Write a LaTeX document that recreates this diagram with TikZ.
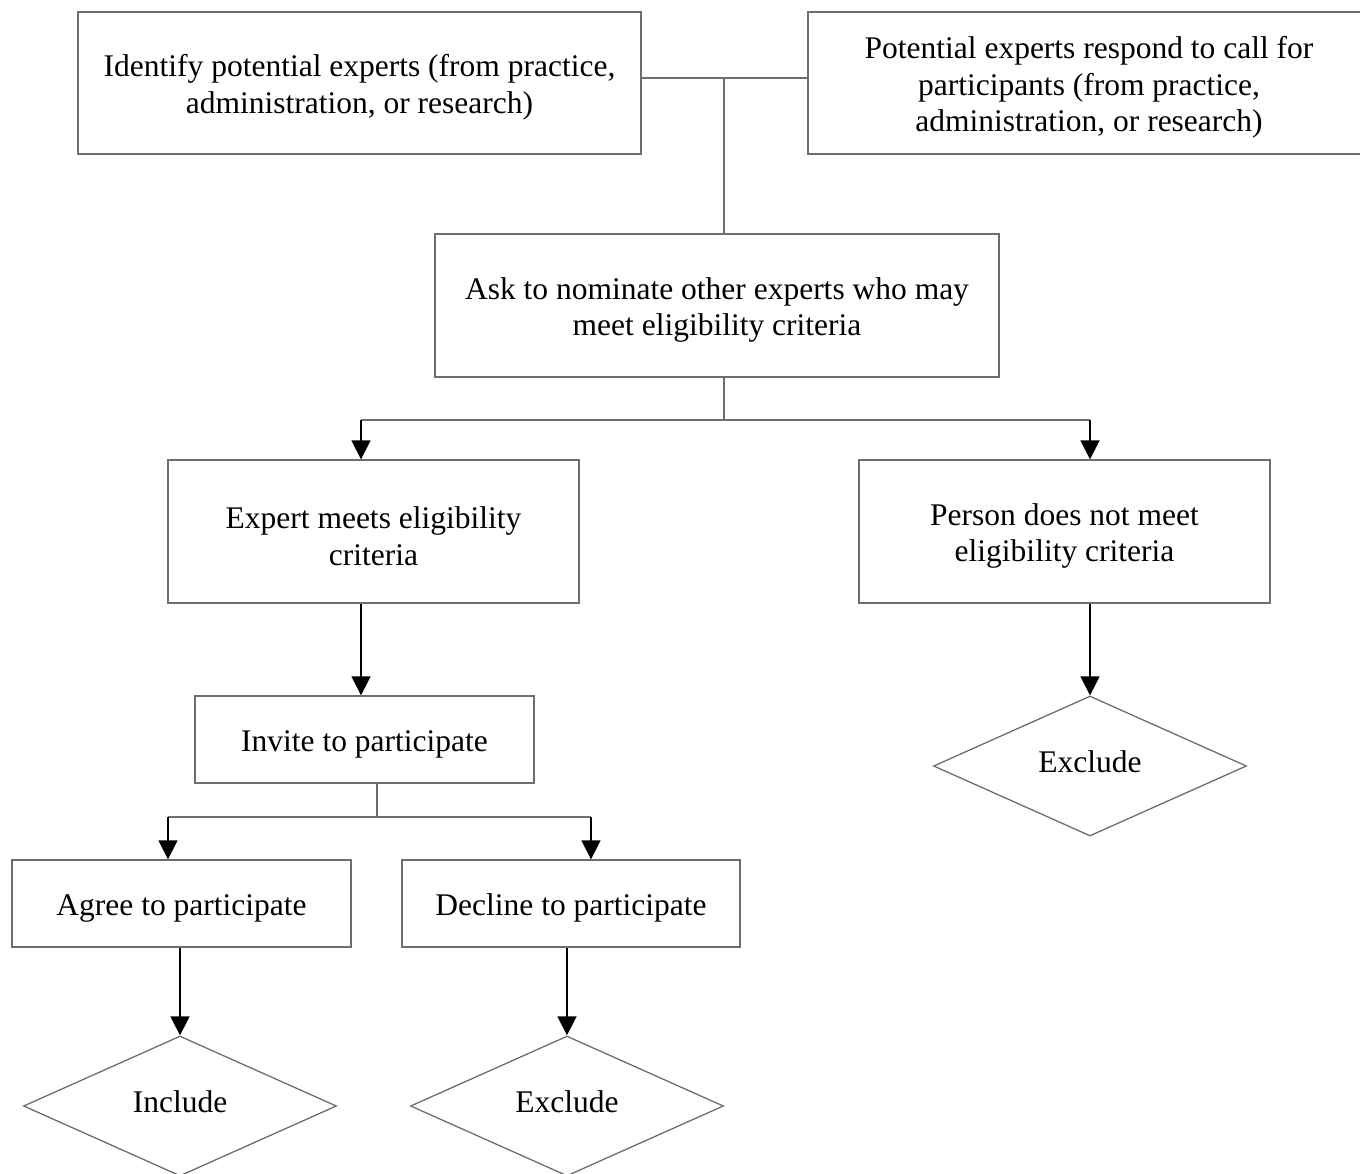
\documentclass[tikz,border=0pt]{standalone}
\usepackage{fontspec}
\setmainfont{Liberation Serif}
\usetikzlibrary{shapes.geometric,arrows.meta}
\definecolor{edgegray}{HTML}{6E6E6E}
\begin{document}
\begin{tikzpicture}[x=1pt,y=-1pt,
  txt/.style={align=center,inner sep=0pt,font=\fontsize{31.5}{36.5}\selectfont},
  box/.style={draw=edgegray,line width=1.3pt,rectangle,inner sep=0pt},
  btext/.style={label={[txt,yshift=-4.5pt]center:{#1}}},
  dtext/.style={label={[txt,yshift=4.5pt]center:{#1}}},
  dia/.style={draw=edgegray,line width=1.3pt,diamond,inner sep=0pt,aspect=2.2,
    minimum width=313pt,minimum height=140pt},
  conn/.style={draw=edgegray,line width=1.3pt},
  arr/.style={draw=black,line width=1.5pt,-{Triangle[width=19pt,length=19pt]}}]
\useasboundingbox (0,0) rectangle (1360,1174);
% boxes
\node[box,minimum width=563pt,minimum height=142pt,btext={Identify potential experts (from practice,\\administration, or research)}] (A) at (359.5,83) {};
\node[box,minimum width=562pt,minimum height=142pt,btext={Potential experts respond to call for\\participants (from practice,\\administration, or research)}] (B) at (1089,83) {};
\node[box,minimum width=564pt,minimum height=143pt,btext={Ask to nominate other experts who may\\meet eligibility criteria}] (C) at (717,305.5) {};
\node[box,minimum width=411pt,minimum height=143pt,btext={Expert meets eligibility\\criteria}] (D) at (373.5,531.5) {};
\node[box,minimum width=411pt,minimum height=143pt,btext={Person does not meet\\eligibility criteria}] (E) at (1064.5,531.5) {};
\node[box,minimum width=339pt,minimum height=87pt,btext={Invite to participate}] (F) at (364.5,739.5) {};
\node[box,minimum width=339pt,minimum height=87pt,btext={Agree to participate}] (G) at (181.5,903.5) {};
\node[box,minimum width=338pt,minimum height=87pt,btext={Decline to participate}] (H) at (571,903.5) {};
\node[dia,dtext={Exclude}] (X1) at (1090,766) {};
\node[dia,dtext={Include}] (X2) at (180,1106) {};
\node[dia,dtext={Exclude}] (X3) at (567,1106) {};
% junctions
\coordinate (j1) at (724,78);
\coordinate (j2) at (724,420);
\coordinate (dl) at (361,420);
\coordinate (dr) at (1090,420);
\coordinate (j3) at (377,817);
\coordinate (gl) at (168,817);
\coordinate (hr) at (591,817);
% connectors
\draw[conn] (A.east |- j1) -- (B.west |- j1);
\draw[conn] (j1) -- (j1 |- C.north);
\draw[conn] (C.south -| j2) -- (j2);
\draw[conn] (dl) -- (dr);
\draw[arr] (dl) -- (dl |- D.north);
\draw[arr] (dr) -- (dr |- E.north);
\draw[arr] (dl |- D.south) -- (dl |- F.north);
\draw[arr] (dr |- E.south) -- (X1.north);
\draw[conn] (F.south -| j3) -- (j3);
\draw[conn] (gl) -- (hr);
\draw[arr] (gl) -- (gl |- G.north);
\draw[arr] (hr) -- (hr |- H.north);
\draw[arr] (G.south -| X2.north) -- (X2.north);
\draw[arr] (H.south -| X3.north) -- (X3.north);
\end{tikzpicture}
\end{document}
